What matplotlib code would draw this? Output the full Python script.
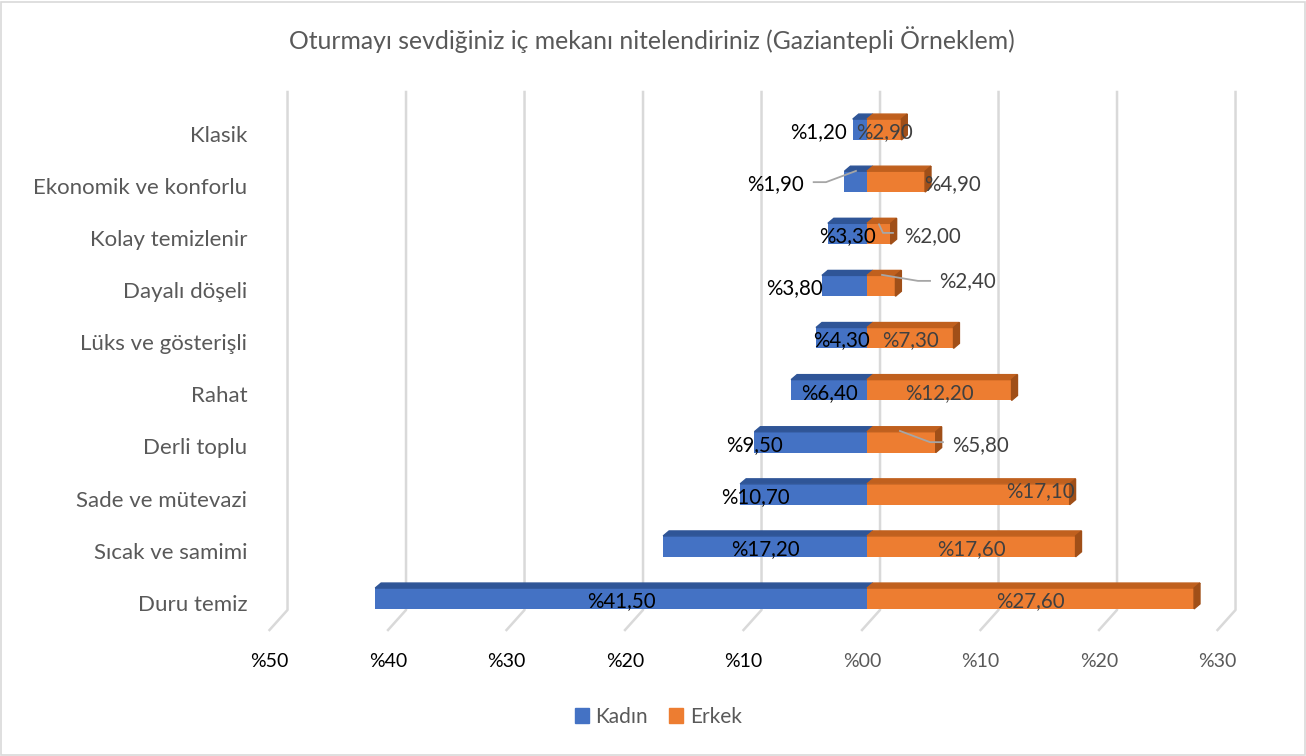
import numpy as np
import matplotlib.pyplot as plt
from matplotlib.patches import Polygon, Rectangle, Patch

plt.rcParams['font.family'] = ['Lato', 'DejaVu Sans']

kategoriler = ['Klasik', 'Ekonomik ve konforlu', 'Kolay temizlenir', 'Dayalı döşeli',
               'Lüks ve gösterişli', 'Rahat', 'Derli toplu', 'Sade ve mütevazi',
               'Sıcak ve samimi', 'Duru temiz']
kadin = [1.2, 1.9, 3.3, 3.8, 4.3, 6.4, 9.5, 10.7, 17.2, 41.5]
erkek = [2.9, 4.9, 2.0, 2.4, 7.3, 12.2, 5.8, 17.1, 17.6, 27.6]
eksen = [-50, -40, -30, -20, -10, 0, 10, 20, 30]

# etiketlerin elle tasinmis yerleri (None = ortada)
kadin_etiket_x = [-4.1, -7.7, None, -6.1, None, None, -9.5, -9.45, None, None]
erkek_etiket_x = [None, 7.2, 5.5, 8.5, None, None, 9.6, 14.6, None, None]
erkek_etiket_dy = [0, 0, 0, 0.15, 0, 0, 0, 0.12, 0, 0]

# kilavuz cizgileri: (satir, [x...], [dy...])
kilavuz = [
    (1, [-4.5, -3.46, -0.93], [-0.01, -0.01, 0.205]),
    (2, [1.01, 1.35, 2.19], [0.18, 0.016, 0.016]),
    (3, [1.27, 4.30, 5.32], [0.21, 0.095, 0.095]),
    (6, [2.78, 5.32, 6.41], [0.215, 0.0, 0.0]),
]

mavi = '#4472C4'
mavi_ust = '#2F5597'
turuncu = '#ED7D31'
turuncu_ust = '#C0601E'
turuncu_yan = '#A04F18'
gri_yazi = '#595959'

fig = plt.figure(figsize=(13.06, 7.56), dpi=100)
ax = fig.add_axes([274.5 / 1306, 1 - 630 / 756, 948 / 1306, 538 / 756])
n = len(kategoriler)
y = np.array([n - 1 - i for i in range(n)], dtype=float)
h = 0.40
dx = 0.5     # 3B derinlik (x)
dy = 0.096   # 3B derinlik (y)

ax.set_xlim(-50, 30)
ax.set_ylim(-0.605, 9.72)
ax.axis('off')

# arka duvar izgara cizgileri + eksen yazilari
for v in eksen:
    ax.plot([v + 1.1, v + 1.1, v - 0.42], [9.72, -0.22, -0.605], color='#D9D9D9',
            lw=1.8, zorder=0, clip_on=False)
    renk = 'black' if v < 0 else gri_yazi
    ax.text(v - 0.42, -1.2, '%' + f'{abs(v):02d}', ha='center', va='center',
            fontsize=14, color=renk, clip_on=False)

for i in range(n):
    yc = y[i]
    ust = yc + h / 2
    # kadin
    ax.barh(yc, -kadin[i], height=h, color=mavi, zorder=2)
    ax.add_patch(Polygon([(-kadin[i], ust), (0, ust), (dx, ust + dy), (-kadin[i] + dx, ust + dy)],
                         closed=True, color=mavi_ust, zorder=2))
    # erkek
    ax.barh(yc, erkek[i], height=h, color=turuncu, zorder=3)
    ax.add_patch(Polygon([(0, ust), (erkek[i], ust), (erkek[i] + dx, ust + dy), (dx, ust + dy)],
                         closed=True, color=turuncu_ust, zorder=3))
    ax.add_patch(Polygon([(erkek[i], ust), (erkek[i] + dx, ust + dy),
                          (erkek[i] + dx, yc - h / 2 + dy), (erkek[i], yc - h / 2)],
                         closed=True, color=turuncu_yan, zorder=3))

    kx = kadin_etiket_x[i] if kadin_etiket_x[i] is not None else -kadin[i] / 2
    ex = erkek_etiket_x[i] if erkek_etiket_x[i] is not None else erkek[i] / 2
    ax.text(kx, yc - 0.05, '%' + f'{kadin[i]:.2f}'.replace('.', ','), ha='center',
            va='center', fontsize=14.8, color='black', zorder=5)
    ax.text(ex, yc - 0.05 + erkek_etiket_dy[i], '%' + f'{erkek[i]:.2f}'.replace('.', ','),
            ha='center', va='center', fontsize=14.8, color='#404040', zorder=5)

    ax.text(-50 - 2.3, yc - 0.12, kategoriler[i], ha='right', va='center',
            fontsize=16, color=gri_yazi)

for satir, xs, dys in kilavuz:
    ax.plot(xs, [y[satir] + d for d in dys], color='#A6A6A6', lw=1.3, zorder=4)

fig.text(0.4995, 1 - 40 / 756, 'Oturmayı sevdiğiniz iç mekanı nitelendiriniz (Gaziantepli Örneklem)',
         ha='center', va='center', fontsize=17.8, color=gri_yazi)

fig.legend(handles=[Patch(color=mavi, label='Kadın'), Patch(color=turuncu, label='Erkek')],
           loc='center', bbox_to_anchor=(658 / 1306, 1 - 717 / 756), ncol=2, frameon=False,
           fontsize=15, labelcolor=gri_yazi, handlelength=0.7, handleheight=0.7,
           handletextpad=0.3, columnspacing=1.0)

fig.patches.append(Rectangle((0.001, 0.001), 0.998, 0.997, transform=fig.transFigure,
                             fill=False, edgecolor='#D9D9D9', lw=1.2))

fig.savefig('out.png', dpi=100)
